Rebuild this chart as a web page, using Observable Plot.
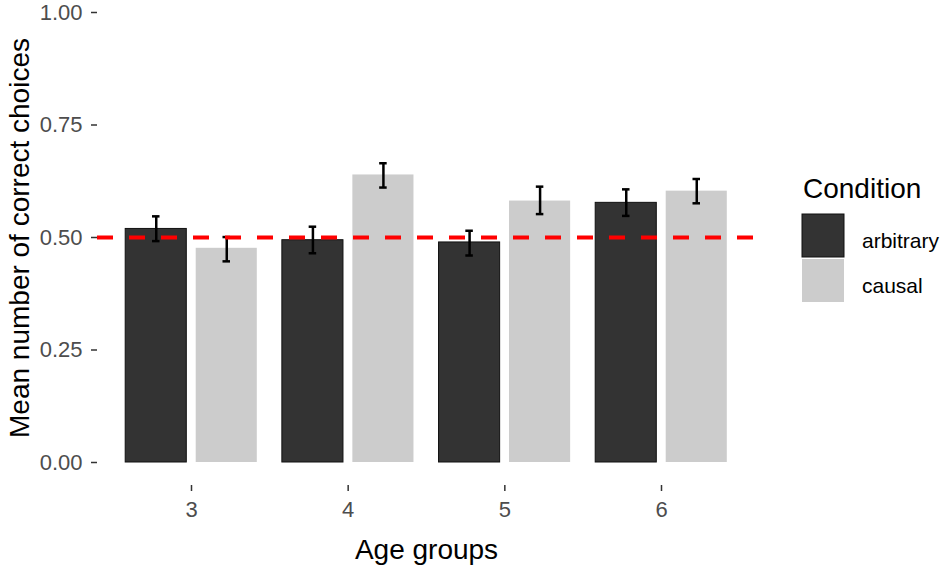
<!DOCTYPE html>
<html><head><meta charset="utf-8">
<script src="https://cdn.jsdelivr.net/npm/d3@7"></script>
<script src="https://cdn.jsdelivr.net/npm/@observablehq/plot@0.6"></script>
<style>
body{margin:0;background:#fff;}
#wrap{position:relative;width:950px;height:567px;font-family:"Liberation Sans",Arial,sans-serif;}
#wrap svg.legend{position:absolute;left:0;top:0;pointer-events:none;}
g[aria-label="y-axis label"], g[aria-label="x-axis label"]{font-size:28px;fill:#000;}
</style></head><body><div id="wrap"></div>
<script>
const ageGroups = [3, 4, 5, 6];
const conditions = ["arbitrary", "causal"];
const conditionColors = ["#333333", "#cccccc"];
const arbitraryMeans = [0.519, 0.494, 0.489, 0.577];
const arbitraryLow   = [0.492, 0.465, 0.460, 0.548];
const arbitraryHigh  = [0.547, 0.524, 0.515, 0.607];
const causalMeans = [0.476, 0.639, 0.581, 0.603];
const causalLow   = [0.447, 0.611, 0.552, 0.576];
const causalHigh  = [0.501, 0.665, 0.613, 0.630];
const yTicks = [0, 0.25, 0.5, 0.75, 1];
const chanceLevel = [0.5];
const xTitle = "Age groups";
const yTitle = "Mean number of correct choices";
const legendTitle = "Condition";

const rows = [];
ageGroups.forEach((age, i) => {
  rows.push({age, condition: conditions[0], mean: arbitraryMeans[i], lo: arbitraryLow[i], hi: arbitraryHigh[i]});
  rows.push({age, condition: conditions[1], mean: causalMeans[i], lo: causalLow[i], hi: causalHigh[i]});
});
const dodge = 0.225, half = 0.195, cap = 0.024;
const cx = d => d.age + (d.condition === conditions[0] ? -dodge : dodge);

const font = '"Liberation Sans", Arial, sans-serif';
const chart = Plot.plot({
  width: 950, height: 567,
  marginLeft: 97, marginRight: 195, marginTop: -10, marginBottom: 82,
  style: {fontFamily: font, fontSize: "22px", background: "white", color: "#4d4d4d"},
  x: {type: "linear", domain: [2.4, 6.6]},
  y: {domain: [0, 1], insetTop: 22, insetBottom: 23},
  color: {domain: conditions, range: conditionColors},
  marks: [
    Plot.rectY(rows, {filter: d => d.condition === conditions[0], x1: d => cx(d) - half, x2: d => cx(d) + half, y1: 0, y2: "mean", fill: "condition", stroke: "#111", strokeWidth: 1}),
    Plot.rectY(rows, {filter: d => d.condition === conditions[1], x1: d => cx(d) - half, x2: d => cx(d) + half, y1: 0, y2: "mean", fill: "condition"}),
    Plot.ruleX(rows, {x: cx, y1: "lo", y2: "hi", stroke: "#000", strokeWidth: 2.5}),
    Plot.ruleY(rows, {y: "hi", x1: d => cx(d) - cap, x2: d => cx(d) + cap, stroke: "#000", strokeWidth: 2.5}),
    Plot.ruleY(rows, {y: "lo", x1: d => cx(d) - cap, x2: d => cx(d) + cap, stroke: "#000", strokeWidth: 2.5}),
    Plot.ruleY(chanceLevel, {stroke: "#ff0000", strokeWidth: 4, strokeDasharray: "16,16"}),
    Plot.axisY({ticks: yTicks, tickFormat: d3.format(".2f"), tickSize: 6, tickPadding: 9, stroke: "#333", strokeWidth: 1.5, fill: "#4d4d4d", fontSize: 22,
      label: yTitle, labelAnchor: "center", labelOffset: 88, labelArrow: "none"}),
    Plot.axisX({ticks: ageGroups, tickFormat: d => String(d), tickSize: 6, tickPadding: 10, stroke: "#333", strokeWidth: 1.5, fill: "#4d4d4d", fontSize: 22,
      label: xTitle, labelAnchor: "center", labelOffset: 73, labelArrow: "none"})
  ]
});
const wrap = document.getElementById("wrap");
wrap.appendChild(chart);

// legend
const svg = d3.select(wrap).append("svg").attr("class", "legend").attr("width", 950).attr("height", 567)
  .style("font-family", font);
svg.append("text").attr("x", 803).attr("y", 198).attr("font-size", 28).attr("fill", "#000").text(legendTitle);
conditions.forEach((c, i) => {
  const y0 = 214 + i * 45;
  svg.append("rect").attr("x", 802).attr("y", y0).attr("width", 42).attr("height", 43)
    .attr("fill", conditionColors[i]).attr("stroke", i === 0 ? "#111" : "none").attr("stroke-width", 1);
  svg.append("text").attr("x", 862).attr("y", y0 + 34).attr("font-size", 21).attr("fill", "#000").text(c);
});
</script></body></html>
